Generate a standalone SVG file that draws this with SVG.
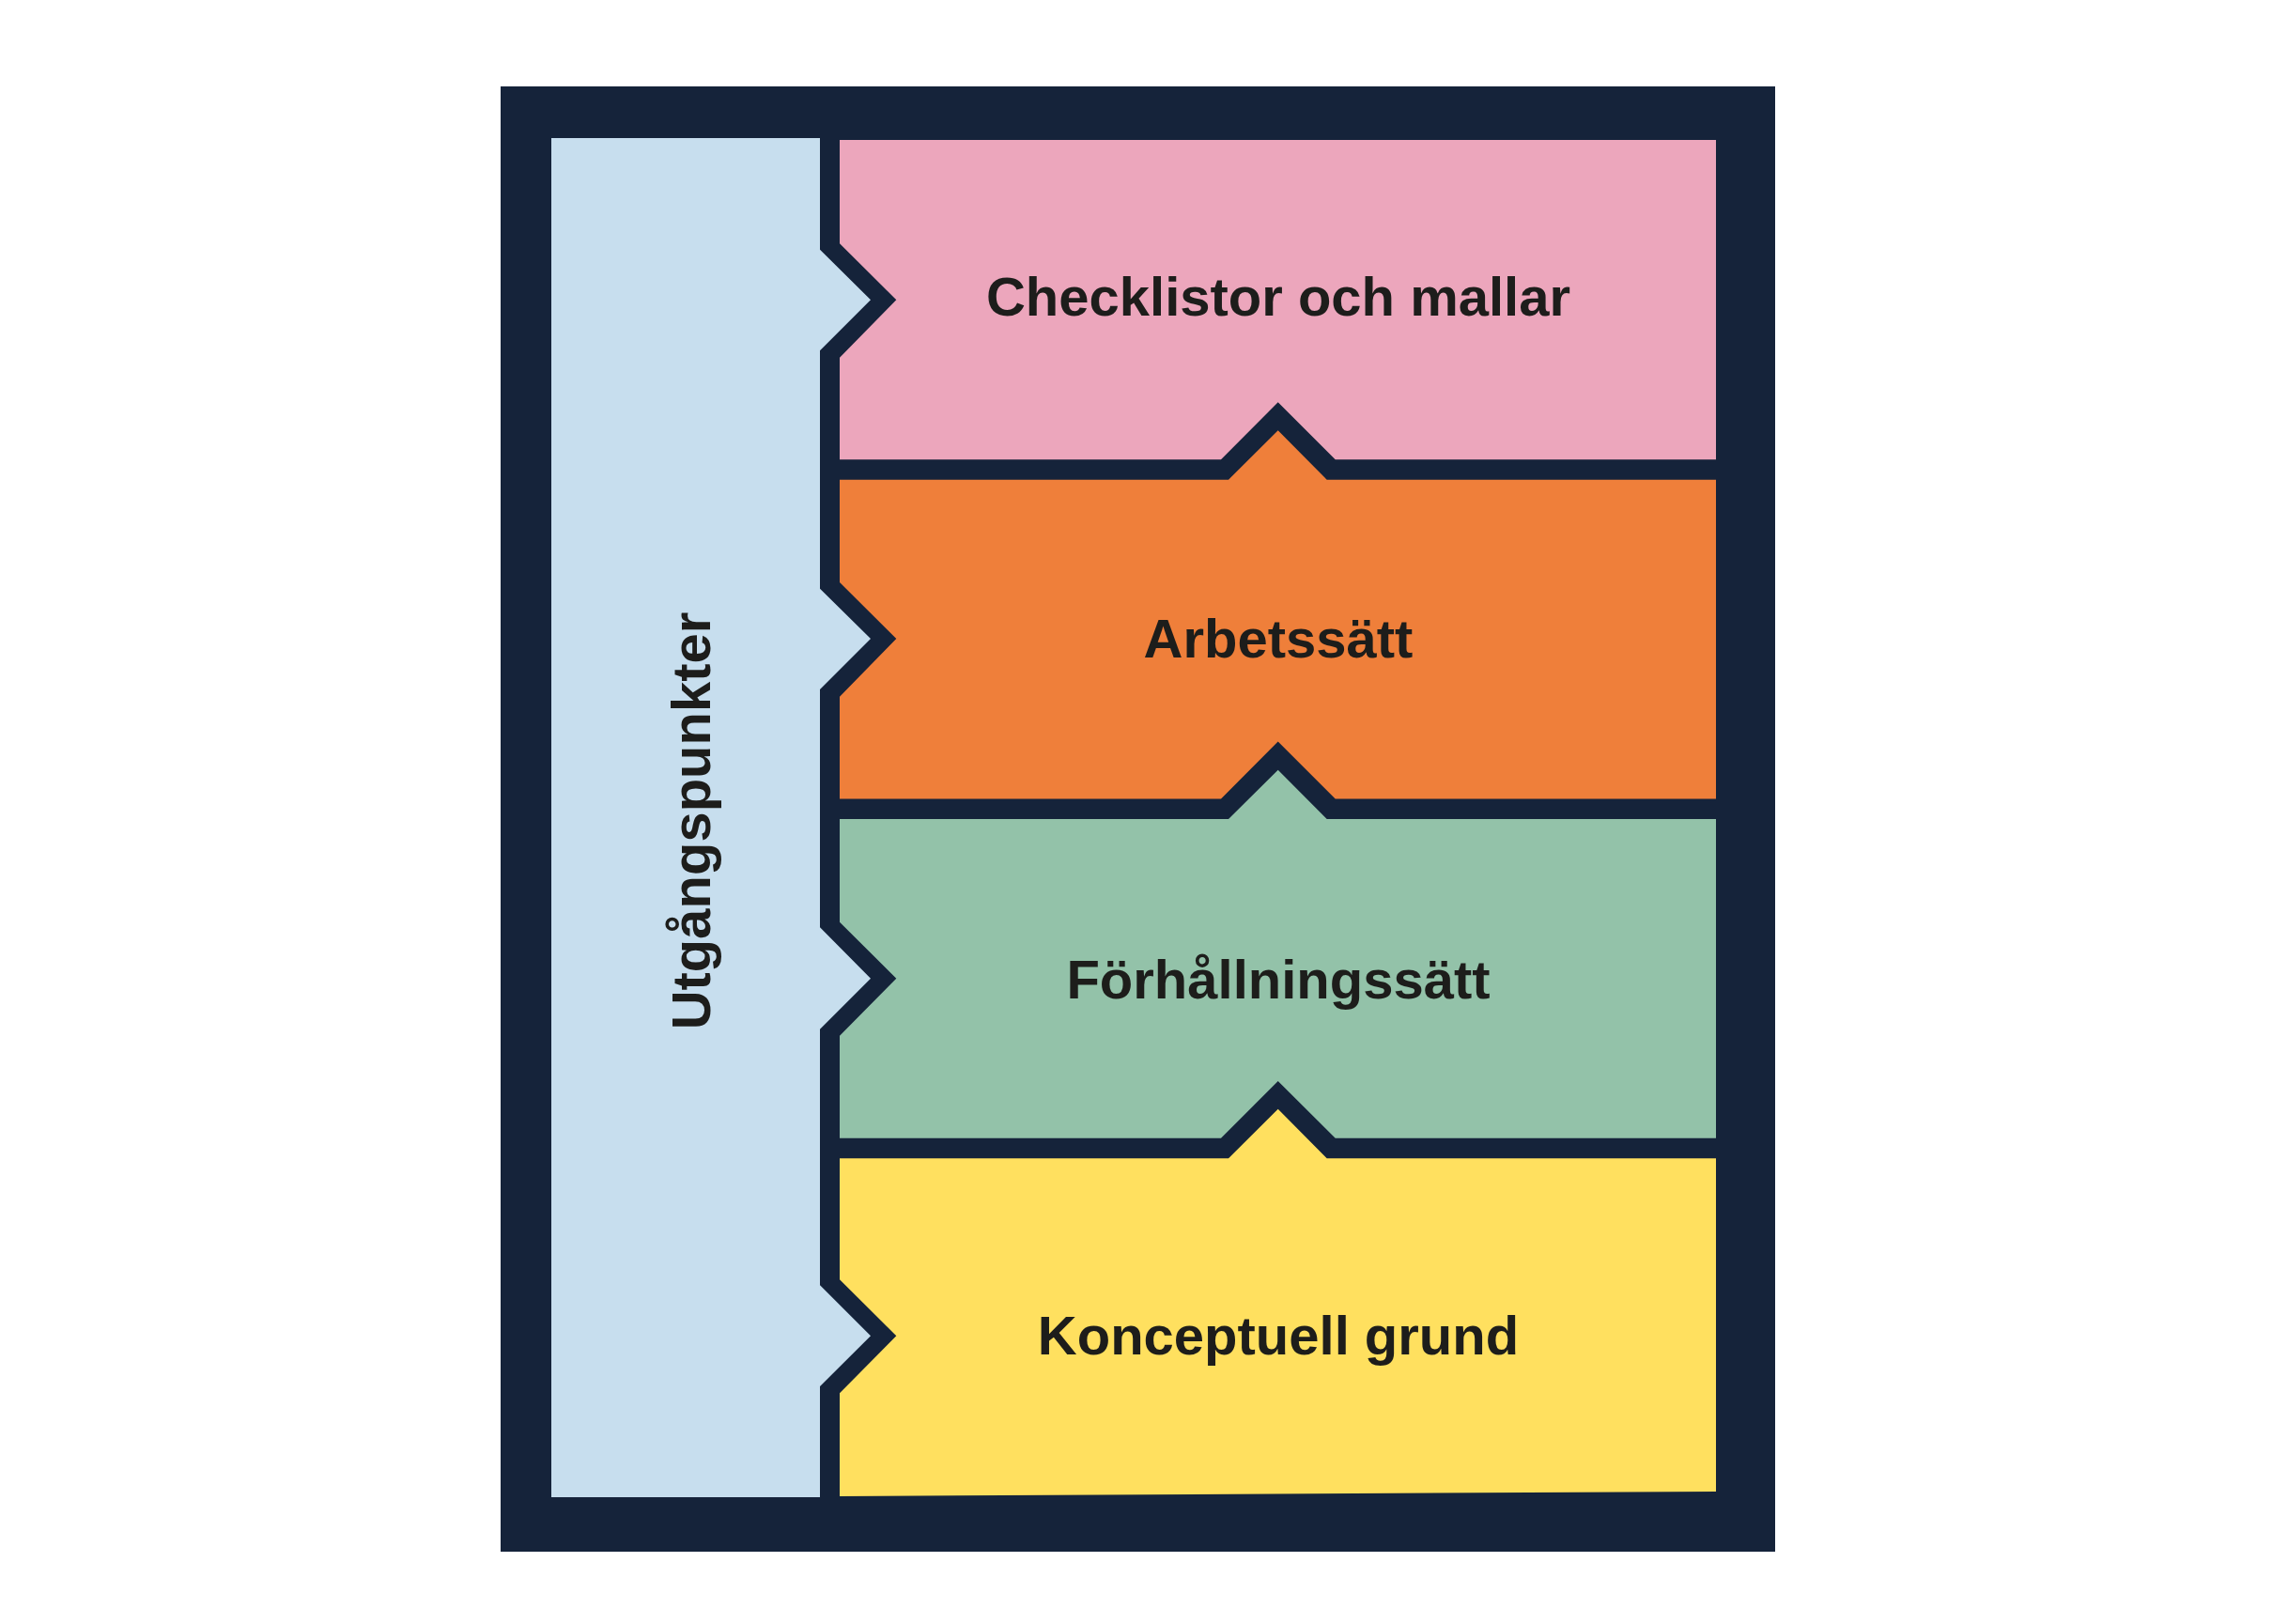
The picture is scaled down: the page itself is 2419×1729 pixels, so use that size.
<svg xmlns="http://www.w3.org/2000/svg" width="2419" height="1729" viewBox="0 0 2419 1729">
  <style>
    .lbl { font-family: "Liberation Sans", Arial, Helvetica, sans-serif; font-weight: bold; font-size: 58px; fill: #1D1D1B; text-anchor: middle; }
  </style>
  <rect x="0" y="0" width="2419" height="1729" fill="#FFFFFF"/>
  <g id="frame">
    <rect x="533" y="92" width="1357" height="1560" fill="#15233A"/>
  </g>
  <g id="utgangspunkter">
    <polygon fill="#C7DEEE" points="587,147 873,147 873,265.7 927,319.3 873,373.3 873,626.7 927,680 873,734 873,987.3 927,1041.7 873,1095.7 873,1368.3 927,1422.3 873,1476 873,1594 587,1594"/>
    <text class="lbl" transform="translate(756,874) rotate(-90)">Utgångspunkter</text>
  </g>
  <g id="checklistor">
    <polygon fill="#ECA6BC" points="894,149 1827,149 1827,489.3 1421.7,489.3 1360.7,428.3 1300,489.3 894,489.3 894,380.7 954.3,319.3 894,259.3"/>
    <text class="lbl" x="1361" y="336">Checklistor och mallar</text>
  </g>
  <g id="arbetssatt">
    <polygon fill="#EF7F3A" points="894,510.7 1308,510.7 1360.7,458.3 1412.7,510.7 1827,510.7 1827,850.5 1421.7,850.5 1360.7,789.5 1300,850.5 894,850.5 894,741.7 954.3,680 894,620"/>
    <text class="lbl" x="1361" y="700">Arbetssätt</text>
  </g>
  <g id="forhallningssatt">
    <polygon fill="#93C2A9" points="894,872 1308,872 1360.7,819.7 1412.7,872 1827,872 1827,1211.7 1421.7,1211.7 1360.7,1151 1300,1211.7 894,1211.7 894,1102.7 954.3,1041.7 894,981.7"/>
    <text class="lbl" x="1361" y="1063">Förhållningssätt</text>
  </g>
  <g id="konceptuell">
    <polygon fill="#FFE05F" points="894,1233.3 1308,1233.3 1360.7,1180.7 1412.7,1233.3 1827,1233.3 1827,1588 894,1593 894,1483.3 954.3,1422.3 894,1362.3"/>
    <text class="lbl" x="1361" y="1442">Konceptuell grund</text>
  </g>
  <g id="connectors"/>
</svg>
